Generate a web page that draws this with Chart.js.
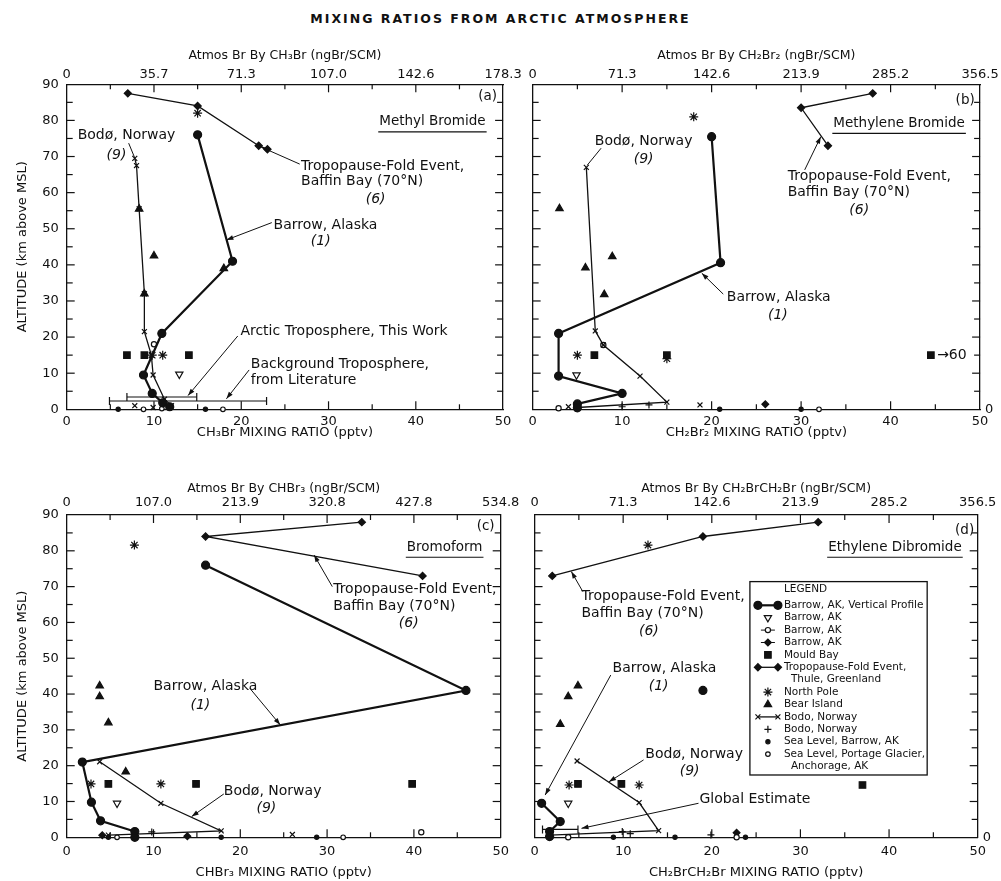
<!DOCTYPE html>
<html>
<head>
<meta charset="utf-8">
<script src="https://cdn.jsdelivr.net/npm/chart.js@4.4.1/dist/chart.umd.min.js"></script>
<style>
html, body { margin: 0; padding: 0; background: #fff; width: 1001px; height: 881px; overflow: hidden; }
#title { position: absolute; left: 0; top: 11px; width: 1001px; text-align: center;
         font: bold 12.5px "DejaVu Sans"; letter-spacing: 2px; color: #111; }
canvas { position: absolute; }
</style>
</head>
<body>
<div id="title">MIXING RATIOS FROM ARCTIC ATMOSPHERE</div>
<canvas id="pa" width="524" height="404" style="left:0;top:40px"></canvas>
<canvas id="pb" width="477" height="404" style="left:524px;top:40px"></canvas>
<canvas id="pc" width="524" height="411" style="left:0;top:470px"></canvas>
<canvas id="pd" width="477" height="411" style="left:524px;top:470px"></canvas>
<script>
// ---- tick labels of the top (ngBr/SCM) axes, one per 10 pptv
const topTicksA = ["0", "35.7", "71.3", "107.0", "142.6", "178.3"];
const topTicksB = ["0", "71.3", "142.6", "213.9", "285.2", "356.5"];
const topTicksC = ["0", "107.0", "213.9", "320.8", "427.8", "534.8"];
const topTicksD = ["0", "71.3", "142.6", "213.9", "285.2", "356.5"];

// ---- (a) methyl bromide, [pptv, altitude]
const aProfile = [[15, 76], [19, 41], [10.9, 21], [8.8, 9.5], [9.8, 4.4], [11, 1.8], [11.8, 0.7]];
const aFold = [[7, 87.5], [15, 84], [22, 73], [23, 72]];
const aBodo = [[7.8, 69.5], [8, 67.5], [8.3, 55.5], [8.9, 32], [8.9, 21.5], [9.7, 15], [9.9, 9.5], [11.2, 2.8], [12, 1]];
const aBodoMarks = [[7.8, 1], [9.9, 0.5]];
const aNorthPole = [[15, 82], [9.8, 15], [11, 15]];
const aMould = [[6.9, 15], [8.9, 15], [14, 15]];
const aBear = [[8.3, 55.5], [10, 42.5], [18, 39], [8.9, 32]];
const aBarrowTri = [[12.9, 9.7]];
const aBarrowOpen = [[10, 18]];
const aSeaBarrow = [[5.9, 0], [15.9, 0], [11.8, 0.3]];
const aSeaPortage = [[8.8, 0], [10.9, 0.2], [17.9, 0]];
const aArcticRange = [[6.9, 3.4], [14.9, 3.4]];
const aBackgroundRange = [[4.9, 2.3], [22.9, 2.3]];

// ---- (b) methylene bromide
const bProfile = [[20, 75.5], [21, 40.6], [2.9, 21], [2.9, 9.2], [10, 4.4], [5, 1.5], [5, 0.4]];
const bFold = [[38, 87.5], [30, 83.5], [33, 73]];
const bBodo = [[6, 67], [7, 21.7], [7.9, 17.8], [12, 9.2], [15, 2], [5, 0.5]];
const bBodoMarks = [[4, 0.7], [18.7, 1.2]];
const bBodoPlus = [[10, 0.7], [13, 1.2]];
const bNorthPole = [[18, 81], [5, 15], [15, 14]];
const bMould = [[6.9, 15], [15, 15], [44.5, 15]];
const bBear = [[3, 55.6], [8.9, 42.3], [5.9, 39.2], [8, 31.8]];
const bBarrowTri = [[4.9, 9.5]];
const bBarrowOpen = [[7.9, 17.8], [2.9, 0.3]];
const bBarrowDiamond = [[26, 1.4]];
const bSeaBarrow = [[4.9, 0], [20.9, 0], [30, 0]];
const bSeaPortage = [[32, 0]];

// ---- (c) bromoform
const cProfile = [[16, 76], [46, 41], [1.8, 21], [2.85, 9.8], [3.9, 4.6], [7.85, 1.6], [7.85, 0]];
const cFold = [[34, 88], [16, 84], [41, 73]];
const cBodo = [[3.8, 21.1], [10.85, 9.5], [17.8, 1.8], [4.8, 0.6]];
const cBodoMarks = [[26, 0.8]];
const cBodoPlus = [[9.8, 1.5]];
const cNorthPole = [[7.8, 81.6], [2.8, 14.9], [10.85, 14.9]];
const cMould = [[4.8, 14.9], [14.9, 14.9], [39.8, 14.9]];
const cBear = [[3.8, 42.3], [3.8, 39.3], [4.8, 32], [6.8, 18.3]];
const cBarrowTri = [[5.8, 9.5]];
const cBarrowOpen = [[40.85, 1.4]];
const cBarrowDiamond = [[13.9, 0.3], [4.1, 0.6]];
const cSeaBarrow = [[4.8, 0], [17.8, 0], [28.8, 0]];
const cSeaPortage = [[5.8, 0], [31.85, 0]];

// ---- (d) ethylene dibromide
const dProfile = [[0.8, 9.5], [2.9, 4.4], [1.7, 1.6], [1.7, 0.2]];
const dProfileMarks = [[19, 41]];
const dFold = [[32, 88], [19, 84], [2, 73]];
const dBodo = [[4.8, 21.3], [11.8, 9.7], [14, 1.85], [1.75, 0.6]];
const dBodoPlus = [[9.9, 1.6], [10.8, 1], [19.9, 0.65]];
const dNorthPole = [[12.8, 81.6], [3.9, 14.6], [11.8, 14.6]];
const dMould = [[4.9, 14.9], [9.8, 14.9], [37, 14.6]];
const dBear = [[4.9, 42.3], [3.8, 39.3], [2.9, 31.6]];
const dBarrowTri = [[3.8, 9.5]];
const dBarrowOpen = [[22.8, 0], [3.8, 0]];
const dBarrowDiamond = [[22.8, 1.3]];
const dSeaBarrow = [[15.85, 0], [23.8, 0], [8.9, 0]];
const dGlobalRange = [[0.9, 2.2], [4.9, 2.2]];

// legend rows (panel d)
const legendRows = [
  ["profile", "Barrow, AK, Vertical Profile"],
  ["barrowTri", "Barrow, AK"],
  ["barrowOpen", "Barrow, AK"],
  ["barrowDiamond", "Barrow, AK"],
  ["mould", "Mould Bay"],
  ["fold", "Tropopause-Fold Event,"],
  [null, "Thule, Greenland"],
  ["northPole", "North Pole"],
  ["bear", "Bear Island"],
  ["bodo", "Bodo, Norway"],
  ["bodoPlus", "Bodo, Norway"],
  ["seaBarrow", "Sea Level, Barrow, AK"],
  ["seaPortage", "Sea Level, Portage Glacier,"],
  [null, "Anchorage, AK"],
];

const FONT = '"DejaVu Sans"';
const INK = "#111";

const STYLE = {
  profile:       { pointStyle: "circle", r: 4, fill: INK, line: 2.2 },
  profileMarks:  { pointStyle: "circle", r: 4, fill: INK },
  barrowTri:     { pointStyle: "triangle", rot: 180, r: 4.2, fill: "#fff" },
  barrowOpen:    { pointStyle: "circle", r: 2.6, fill: "#fff", stub: true },
  barrowDiamond: { pointStyle: "rectRot", r: 3.4, fill: INK, stub: true },
  mould:         { pointStyle: "rect", r: 4.6, fill: INK },
  fold:          { pointStyle: "rectRot", r: 3.6, fill: INK, line: 1.3 },
  northPole:     { pointStyle: "star", r: 4.5, fill: INK },
  bear:          { pointStyle: "triangle", r: 4.3, fill: INK },
  bodo:          { pointStyle: "crossRot", r: 3.5, fill: INK, line: 1.3 },
  bodoMarks:     { pointStyle: "crossRot", r: 3.5, fill: INK },
  bodoPlus:      { pointStyle: "cross", r: 3.5, fill: INK },
  seaBarrow:     { pointStyle: "circle", r: 2.1, fill: INK },
  seaPortage:    { pointStyle: "circle", r: 2.3, fill: "#fff" },
};

const PANELS = [
  {
    id: "pa", topTicks: topTicksA,
    topTitle: "Atmos Br By CH₃Br (ngBr/SCM)", bottomTitle: "CH₃Br MIXING RATIO (pptv)",
    showY: true, rightZero: false,
    box: { top: 44.3, bottom: 34.7, left: 66.7, right: 7, topPad: 2.3, topTitlePad: 8.5, botPad: 4.5, botTitlePad: 4 },
    series: { profile: aProfile, fold: aFold, bodo: aBodo, bodoMarks: aBodoMarks, northPole: aNorthPole,
              mould: aMould, bear: aBear, barrowTri: aBarrowTri, barrowOpen: aBarrowOpen,
              seaBarrow: aSeaBarrow, seaPortage: aSeaPortage },
    ranges: [aArcticRange, aBackgroundRange],
    letter: ["(a)", 49.3, 86.5], subtitle: ["Methyl Bromide", 48, 79.6],
    notes: [
      ["Bodø, Norway", 6.85, 75.8, "center"], ["(9)", 5.7, 70.4, "center", true],
      ["Tropopause-Fold Event,", 26.85, 67.4], ["Baffin Bay (70°N)", 26.85, 63], ["(6)", 35.4, 58, "center", true],
      ["Barrow, Alaska", 23.7, 50.8], ["(1)", 29.1, 46.4, "center", true],
      ["Arctic Troposphere, This Work", 19.9, 21.5],
      ["Background Troposphere,", 21.1, 12.5], ["from Literature", 21.1, 7.9],
    ],
    leaders: [
      [7.1, 73.7, 7.8, 69.6, false], [26.7, 67.9, 22.3, 72.6], [23.5, 51.7, 18.3, 46.9],
      [19.6, 20.3, 13.9, 3.8], [20.9, 10.9, 18.3, 2.9],
    ],
  },
  {
    id: "pb", topTicks: topTicksB,
    topTitle: "Atmos Br By CH₂Br₂ (ngBr/SCM)", bottomTitle: "CH₂Br₂ MIXING RATIO (pptv)",
    showY: false, rightZero: true,
    box: { top: 44.3, bottom: 34.7, left: 7, right: 19, topPad: 2.3, topTitlePad: 8.5, botPad: 4.5, botTitlePad: 4 },
    series: { profile: bProfile, fold: bFold, bodo: bBodo, bodoMarks: bBodoMarks, bodoPlus: bBodoPlus,
              northPole: bNorthPole, mould: bMould, bear: bBear, barrowTri: bBarrowTri, barrowOpen: bBarrowOpen,
              barrowDiamond: bBarrowDiamond, seaBarrow: bSeaBarrow, seaPortage: bSeaPortage },
    ranges: [],
    letter: ["(b)", 49.4, 85.4], subtitle: ["Methylene Bromide", 48.3, 79.2],
    notes: [
      ["Bodø, Norway", 12.4, 74.1, "center"], ["(9)", 12.4, 69.2, "center", true],
      ["Tropopause-Fold Event,", 28.5, 64.4], ["Baffin Bay (70°N)", 28.5, 60], ["(6)", 36.5, 55, "center", true],
      ["Barrow, Alaska", 21.7, 31], ["(1)", 27.4, 26.1, "center", true],
      ["→60", 45.2, 15],
    ],
    leaders: [[7.65, 72.3, 6.1, 67.6, false], [30.4, 66.3, 32.2, 75.5], [21.3, 31.9, 18.9, 37.7]],
  },
  {
    id: "pc", topTicks: topTicksC,
    topTitle: "Atmos Br By CHBr₃ (ngBr/SCM)", bottomTitle: "CHBr₃ MIXING RATIO (pptv)",
    showY: true, rightZero: false,
    box: { top: 45, bottom: 43.7, left: 66.7, right: 7, topPad: 4.7, topTitlePad: 10.8, botPad: 6.4, botTitlePad: 0.5 },
    series: { profile: cProfile, fold: cFold, bodo: cBodo, bodoMarks: cBodoMarks, bodoPlus: cBodoPlus,
              northPole: cNorthPole, mould: cMould, bear: cBear, barrowTri: cBarrowTri, barrowOpen: cBarrowOpen,
              barrowDiamond: cBarrowDiamond, seaBarrow: cSeaBarrow, seaPortage: cSeaPortage },
    ranges: [],
    letter: ["(c)", 49.3, 86.7], subtitle: ["Bromoform", 47.9, 81],
    notes: [
      ["Tropopause-Fold Event,", 30.7, 69.1], ["Baffin Bay (70°N)", 30.7, 64.6], ["(6)", 39.4, 59.8, "center", true],
      ["Barrow, Alaska", 10, 42.1], ["(1)", 15.4, 36.9, "center", true],
      ["Bodø, Norway", 18.1, 12.7], ["(9)", 23, 8.1, "center", true],
    ],
    leaders: [[30.6, 70, 28.5, 78.8], [21.1, 41.6, 24.6, 31.4], [18.1, 12.1, 14.4, 5.8]],
  },
  {
    id: "pd", topTicks: topTicksD,
    topTitle: "Atmos Br By CH₂BrCH₂Br (ngBr/SCM)", bottomTitle: "CH₂BrCH₂Br MIXING RATIO (pptv)",
    showY: false, rightZero: true,
    box: { top: 45, bottom: 43.7, left: 7, right: 21, topPad: 4.7, topTitlePad: 10.8, botPad: 6.4, botTitlePad: 0.5 },
    series: { profile: dProfile, profileMarks: dProfileMarks, fold: dFold, bodo: dBodo, bodoPlus: dBodoPlus,
              northPole: dNorthPole, mould: dMould, bear: dBear, barrowTri: dBarrowTri, barrowOpen: dBarrowOpen,
              barrowDiamond: dBarrowDiamond, seaBarrow: dSeaBarrow },
    ranges: [dGlobalRange],
    letter: ["(d)", 49.6, 85.6], subtitle: ["Ethylene Dibromide", 48.2, 81],
    notes: [
      ["Tropopause-Fold Event,", 5.3, 67.2], ["Baffin Bay (70°N)", 5.3, 62.6], ["(6)", 12.9, 57.6, "center", true],
      ["Barrow, Alaska", 8.8, 47.2], ["(1)", 14, 42.1, "center", true],
      ["Bodø, Norway", 12.5, 23.3], ["(9)", 17.5, 18.3, "center", true],
      ["Global Estimate", 18.6, 10.6],
    ],
    leaders: [[5.45, 68.6, 4.15, 74.2], [8.6, 45.3, 1.2, 11.8], [12.3, 21.6, 8.4, 15.5], [18.5, 9.5, 5.3, 2.5]],
    legend: [24.3, 71.4, 44.3, 17.4],
  },
];

const byId = {};
PANELS.forEach(p => { byId[p.id] = p; });

function line(ctx, x1, y1, x2, y2) {
  ctx.beginPath(); ctx.moveTo(x1, y1); ctx.lineTo(x2, y2); ctx.stroke();
}

function arrowHead(ctx, x1, y1, x2, y2) {
  const a = Math.atan2(y2 - y1, x2 - x1), L = 7, W = 2.4;
  ctx.beginPath();
  ctx.moveTo(x2, y2);
  ctx.lineTo(x2 - L * Math.cos(a) + W * Math.sin(a), y2 - L * Math.sin(a) - W * Math.cos(a));
  ctx.lineTo(x2 - L * Math.cos(a) - W * Math.sin(a), y2 - L * Math.sin(a) + W * Math.cos(a));
  ctx.closePath(); ctx.fill();
}

function mark(ctx, st, x, y) {
  ctx.fillStyle = st.fill; ctx.strokeStyle = INK; ctx.lineWidth = 1.2;
  const o = { pointStyle: st.pointStyle, radius: st.r, rotation: st.rot || 0, borderWidth: 1.2 };
  if (Chart.helpers && Chart.helpers.drawPoint) {
    Chart.helpers.drawPoint(ctx, o, x, y);
  } else {
    ctx.beginPath(); ctx.arc(x, y, st.r, 0, Math.PI * 2); ctx.fill(); ctx.stroke();
  }
}

const decor = {
  id: "decor",
  afterDraw(chart) {
    const p = byId[chart.canvas.id];
    const ctx = chart.ctx, xs = chart.scales.x, ys = chart.scales.y;
    const { left, right, top, bottom } = chart.chartArea;
    const X = v => xs.getPixelForValue(v), Y = v => ys.getPixelForValue(v);
    ctx.save();
    ctx.strokeStyle = INK; ctx.fillStyle = INK; ctx.lineWidth = 1.2;

    // inward tick marks on all four sides
    for (let v = 5; v < 50; v += 5) {
      const L = v % 10 === 0 ? 8 : 5;
      line(ctx, X(v), bottom, X(v), bottom - L);
      line(ctx, X(v), top, X(v), top + L);
    }
    for (let v = 5; v < 90; v += 5) {
      const L = v % 10 === 0 ? 8 : 6;
      line(ctx, left, Y(v), left + L, Y(v));
      line(ctx, right, Y(v), right - L, Y(v));
    }

    // panel letter and underlined compound name
    ctx.textBaseline = "middle";
    ctx.font = "13.5px " + FONT;
    ctx.textAlign = "right";
    ctx.fillText(p.letter[0], X(p.letter[1]), Y(p.letter[2]));
    const [sub, sx, sy] = p.subtitle;
    ctx.fillText(sub, X(sx), Y(sy));
    const w = ctx.measureText(sub).width;
    line(ctx, X(sx) - w - 1, Y(sy) + 10, X(sx) + 1, Y(sy) + 10);

    // site notes and leader lines
    p.notes.forEach(([t, x, y, align, italic]) => {
      ctx.font = (italic ? "italic " : "") + "14px " + FONT;
      ctx.textAlign = align || "left";
      ctx.fillText(t, X(x), Y(y));
    });
    ctx.lineWidth = 1;
    p.leaders.forEach(([x1, y1, x2, y2, arrow]) => {
      line(ctx, X(x1), Y(y1), X(x2), Y(y2));
      if (arrow !== false) arrowHead(ctx, X(x1), Y(y1), X(x2), Y(y2));
    });

    // legend box
    if (p.legend) {
      const [lx0, ly0, lx1, ly1] = p.legend;
      const bx = X(lx0), by = Y(ly0), bw = X(lx1) - bx, bh = Y(ly1) - by;
      ctx.fillStyle = "#fff"; ctx.fillRect(bx, by, bw, bh);
      ctx.strokeStyle = INK; ctx.lineWidth = 1.3; ctx.strokeRect(bx, by, bw, bh);
      ctx.fillStyle = INK; ctx.textAlign = "left"; ctx.textBaseline = "middle";
      ctx.font = "10.5px " + FONT;
      ctx.fillText("LEGEND", bx + 34, by + 8);
      const cx = bx + 18;
      legendRows.forEach(([key, text], i) => {
        const ry = by + 23.7 + 12.4 * i;
        ctx.fillStyle = INK; ctx.font = "10.5px " + FONT;
        ctx.fillText(text, bx + (key ? 34 : 41), ry);
        if (!key) return;
        const st = STYLE[key];
        ctx.strokeStyle = INK;
        if (st.line) {
          ctx.lineWidth = st.line;
          line(ctx, cx - 10, ry, cx + 10, ry);
          mark(ctx, st, cx - 10, ry);
          mark(ctx, st, cx + 10, ry);
        } else {
          if (st.stub) { ctx.lineWidth = 1; line(ctx, cx - 7, ry, cx + 7, ry); }
          mark(ctx, st, cx, ry);
        }
      });
    }
    ctx.restore();
  },
};

function datasets(p) {
  const out = [];
  Object.keys(p.series).forEach(key => {
    const st = STYLE[key];
    out.push({
      data: p.series[key].map(([x, y]) => ({ x, y })),
      xAxisID: "x", yAxisID: "y",
      showLine: !!st.line, borderColor: INK, borderWidth: st.line || 1,
      pointStyle: st.pointStyle, pointRadius: st.r, pointRotation: st.rot || 0,
      pointBackgroundColor: st.fill, pointBorderColor: INK, pointBorderWidth: 1.2,
      clip: 8,
    });
  });
  p.ranges.forEach(r => {
    out.push({
      data: r.map(([x, y]) => ({ x, y })),
      xAxisID: "x", yAxisID: "y",
      showLine: true, borderColor: INK, borderWidth: 1.2,
      pointStyle: "line", pointRadius: 4, pointRotation: 90,
      pointBorderColor: INK, pointBorderWidth: 1.2, clip: 8,
    });
  });
  return out;
}

function scales(p) {
  const b = p.box;
  const font = { family: FONT, size: 13 };
  const grid = { display: false, drawTicks: false };
  const border = { display: true, color: INK, width: 1.3 };
  return {
    x: {
      type: "linear", position: "bottom", min: 0, max: 50, grid, border,
      ticks: { stepSize: 10, font, color: INK, padding: b.botPad, maxRotation: 0, autoSkip: false },
      title: { display: true, text: p.bottomTitle, font, color: INK, padding: b.botTitlePad },
      afterFit: s => { s.height = b.bottom; },
    },
    xTop: {
      type: "linear", position: "top", min: 0, max: 50, grid, border,
      ticks: { stepSize: 10, font, color: INK, padding: b.topPad, maxRotation: 0, autoSkip: false,
               callback: v => p.topTicks[Math.round(v / 10)] },
      title: { display: true, text: p.topTitle, font: { family: FONT, size: 12.5 }, color: INK, padding: b.topTitlePad },
      afterFit: s => { s.height = b.top; },
    },
    y: {
      type: "linear", position: "left", min: 0, max: 90, grid, border,
      ticks: { stepSize: 10, display: p.showY, font, color: INK, padding: 8 },
      title: { display: p.showY, text: "ALTITUDE (km above MSL)", font, color: INK, padding: 15 },
      afterFit: s => { s.width = b.left; },
    },
    yRight: {
      type: "linear", position: "right", min: 0, max: 90, grid, border,
      ticks: { stepSize: 10, display: p.rightZero, font, color: INK, padding: 5,
               callback: v => (v === 0 ? "0" : "") },
      afterFit: s => { s.width = b.right; },
    },
  };
}

PANELS.forEach(p => {
  new Chart(document.getElementById(p.id).getContext("2d"), {
    type: "scatter",
    data: { datasets: datasets(p) },
    options: {
      responsive: false,
      animation: false,
      events: [],
      layout: { padding: 0, autoPadding: false },
      scales: scales(p),
      plugins: { legend: { display: false }, tooltip: { enabled: false } },
    },
    plugins: [decor],
  });
});
</script>
</body>
</html>
